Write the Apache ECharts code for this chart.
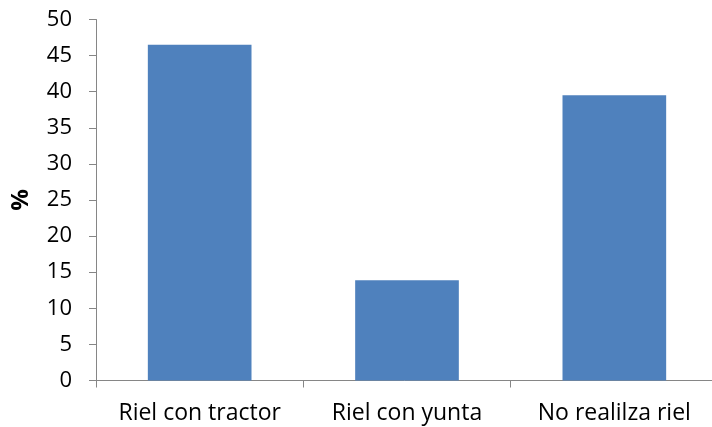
<!DOCTYPE html>
<html>
<head>
<meta charset="utf-8">
<script src="https://cdn.jsdelivr.net/npm/echarts@6/dist/echarts.min.js"></script>
<style>
  html, body { margin: 0; padding: 0; background: #fff; }
  #chart { width: 712px; height: 427px; }
</style>
</head>
<body>
<div id="chart"></div>
<script>
var categories = ['Riel con tractor', 'Riel con yunta', 'No realilza riel']
var values = [46.5, 13.9, 39.5]
var yTicks = { min: 0, max: 50, interval: 5 }

var axisGrey = '#868686'
var font = 'Open Sans'

var chart = echarts.init(document.getElementById('chart'))
chart.setOption({
  animation: false,
  grid: { left: 96, width: 622, top: 19.5, bottom: 46.5, outerBoundsMode: 'none' },
  xAxis: {
    type: 'category',
    data: categories,
    axisLine: { lineStyle: { color: axisGrey, width: 1 } },
    axisTick: { show: true, interval: 0, length: 7, lineStyle: { color: axisGrey } },
    axisLabel: { interval: 0, hideOverlap: false, color: '#000', fontFamily: font, fontSize: 23, margin: 21 }
  },
  yAxis: {
    type: 'value',
    min: yTicks.min,
    max: yTicks.max,
    interval: yTicks.interval,
    name: '%',
    nameLocation: 'middle',
    nameGap: 63,
    nameTextStyle: { color: '#000', fontFamily: font, fontSize: 24, fontWeight: 'bold' },
    axisLine: { show: true, lineStyle: { color: axisGrey, width: 1 } },
    axisTick: { show: true, length: 7, lineStyle: { color: axisGrey } },
    axisLabel: { color: '#000', fontFamily: font, fontSize: 22, margin: 24 },
    splitLine: { show: false }
  },
  series: [{
    type: 'bar',
    data: values,
    barCategoryGap: '50%',
    itemStyle: { color: '#4F81BD' }
  }]
})
</script>
</body>
</html>
